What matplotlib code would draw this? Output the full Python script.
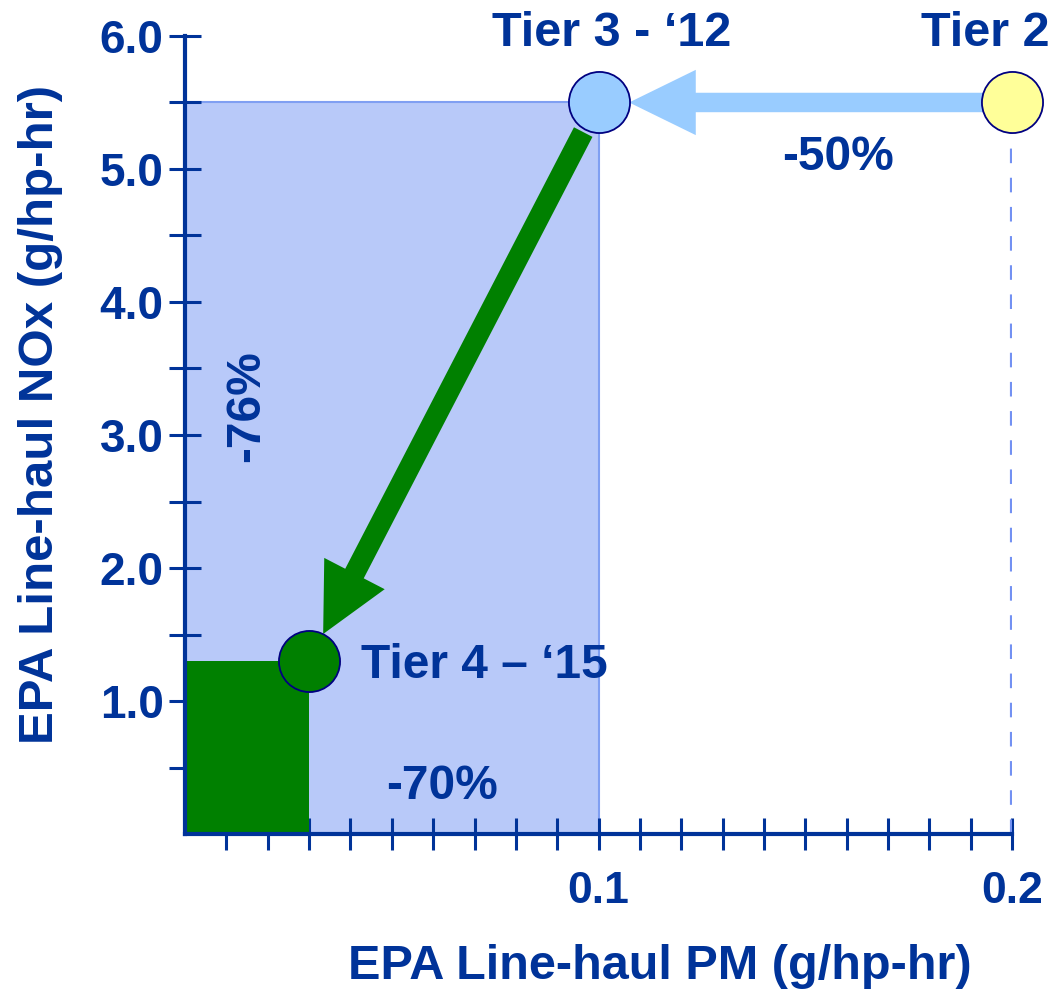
import matplotlib
matplotlib.use('Agg')
import matplotlib.pyplot as plt
from matplotlib.patches import Rectangle, FancyArrowPatch, ArrowStyle

plt.rcParams['font.family'] = ['Liberation Sans', 'DejaVu Sans']
plt.rcParams['font.weight'] = 'bold'

# EPA line-haul locomotive limits
tiers = ['Tier 2', 'Tier 3 - \u201812', 'Tier 4 \u2013 \u201815']
pm = [0.2, 0.1, 0.03]      # g/hp-hr
nox = [5.5, 5.5, 1.3]      # g/hp-hr
marker_colors = ['#ffff99', '#99ccff', '#008000']

navy = '#003399'

# reductions between tiers
pm_cut_23 = round((1 - pm[1] / pm[0]) * 100)
pm_cut_34 = round((1 - pm[2] / pm[1]) * 100)
nox_cut_34 = round((1 - nox[2] / nox[1]) * 100)

fig = plt.figure(figsize=(10.55, 9.91), dpi=100)
ax = fig.add_axes([0.1754, 0.1584, 0.7839, 0.8053])
ax.set_xlim(0, 0.2)
ax.set_ylim(0, 6.0)

# Tier 3 and Tier 4 boxes
ax.add_patch(Rectangle((0, 0), pm[1], nox[1], facecolor='#b8c9f9',
                       edgecolor='#809ff2', linewidth=1.5, zorder=1))
ax.add_patch(Rectangle((0, 0), pm[2], nox[2], facecolor='#008000',
                       edgecolor='none', zorder=2))

# Tier 2 dashed drop line
ax.vlines(pm[0], 0, nox[0], colors='#7391f2', linewidths=3,
          linestyles=[(0, (3.5, 3.5))], zorder=2)

# arrows between tiers
blue_style = ArrowStyle('Simple', head_length=48, head_width=47, tail_width=14)
ax.add_patch(FancyArrowPatch((pm[0], nox[0]), (pm[1], nox[1]), arrowstyle=blue_style,
                             mutation_scale=1, shrinkA=0, shrinkB=22,
                             color='#99ccff', lw=0, zorder=3))
green_style = ArrowStyle('Simple', head_length=49, head_width=49, tail_width=15)
ax.add_patch(FancyArrowPatch((pm[1], nox[1]), (pm[2], nox[2]), arrowstyle=green_style,
                             mutation_scale=1, shrinkA=24, shrinkB=22,
                             color='#008000', lw=0, zorder=3))

# tier points
for x, y, c in zip(pm, nox, marker_colors):
    ax.plot(x, y, 'o', ms=44, markerfacecolor=c, markeredgecolor='#000080',
            markeredgewidth=1.3, clip_on=False, zorder=4)

# labels
ax.text(0.1031, 6.02, tiers[1], ha='center', va='center', fontsize=35,
        color=navy, fontweight='bold')
ax.text(0.1935, 6.02, tiers[0], ha='center', va='center', fontsize=35,
        color=navy, fontweight='bold')
ax.text(pm[2] + 0.0125, nox[2] - 0.03, tiers[2], ha='left', va='center', fontsize=34.5,
        color=navy, fontweight='bold', zorder=5)
ax.text(0.158, 5.09, f'-{pm_cut_23}%', ha='center', va='center', fontsize=34.5,
        color=navy, fontweight='bold')
ax.text(0.0622, 0.36, f'-{pm_cut_34}%', ha='center', va='center', fontsize=34.5,
        color=navy, fontweight='bold', zorder=5)
ax.text(0.0148, 3.22, f'-{nox_cut_34}%', ha='center', va='center', fontsize=34.5,
        color=navy, fontweight='bold', rotation=90, zorder=5)

# axes styling
for side in ['top', 'right']:
    ax.spines[side].set_visible(False)
for side in ['left', 'bottom']:
    ax.spines[side].set_color(navy)
    ax.spines[side].set_linewidth(3)
    ax.spines[side].set_zorder(6)

ax.set_xticks([0.1, 0.2])
ax.set_xticklabels(['0.1', '0.2'])
ax.set_xticks([i / 100 for i in range(1, 20) if i != 10], minor=True)
ax.set_yticks([1, 2, 3, 4, 5, 6])
ax.set_yticklabels(['1.0', '2.0', '3.0', '4.0', '5.0', '6.0'])
ax.set_yticks([0.5, 1.5, 2.5, 3.5, 4.5, 5.5], minor=True)
ax.tick_params(which='both', direction='inout', length=23, width=2.2, color=navy,
               labelcolor=navy, labelsize=33)
ax.tick_params(axis='x', which='major', labelsize=32, pad=15)
ax.tick_params(axis='y', which='major', pad=4)

ax.set_xlabel('EPA Line-haul PM (g/hp-hr)', fontsize=35, color=navy,
              fontweight='bold', va='center')
ax.xaxis.set_label_coords(0.574, -0.166)
ax.set_ylabel('EPA Line-haul NOx (g/hp-hr)', fontsize=35.5, color=navy,
              fontweight='bold', va='center')
ax.yaxis.set_label_coords(-0.175, 0.526)

fig.savefig('out.png', dpi=100)
